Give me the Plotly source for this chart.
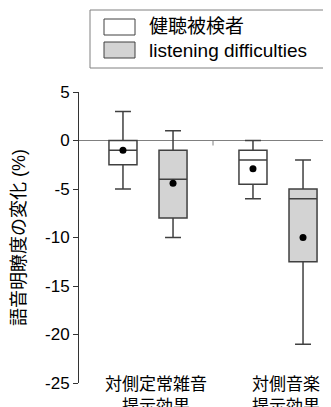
import plotly.graph_objects as go

# ---- data ----
categories = ["対側定常雑音<br>提示効果", "対側音楽<br>提示効果"]
series_names = ["健聴被検者", "listening difficulties"]

healthy_q1 = [-2.5, -4.5]
healthy_median = [-1, -2]
healthy_q3 = [0, -1]
healthy_lower = [-5, -6]
healthy_upper = [3, 0]
healthy_mean = [-1, -2.9]

diff_q1 = [-8, -12.5]
diff_median = [-4, -6]
diff_q3 = [-1, -5]
diff_lower = [-10, -21]
diff_upper = [1, -2]
diff_mean = [-4.4, -10]

y_tickvals = [5, 0, -5, -10, -15, -20, -25]
y_ticktext = ["5", "0", "-5", "-10", "-15", "-20", "-25"]

FONT = "Liberation Sans, Arial, Noto Sans CJK JP, sans-serif"
LINE = "#404040"
GRAY_FILL = "#d3d3d3"

fig = go.Figure()

for name, fill, og, q1, med, q3, lo, hi in [
    (series_names[0], "white", "h", healthy_q1, healthy_median, healthy_q3, healthy_lower, healthy_upper),
    (series_names[1], GRAY_FILL, "d", diff_q1, diff_median, diff_q3, diff_lower, diff_upper),
]:
    fig.add_trace(go.Box(
        name=name, x=categories, q1=q1, median=med, q3=q3,
        lowerfence=lo, upperfence=hi,
        fillcolor=fill, line=dict(color=LINE, width=1.5),
        whiskerwidth=0.57, offsetgroup=og, showlegend=False,
        hoverinfo="skip",
    ))

for name, og, means in [(series_names[0], "h", healthy_mean), (series_names[1], "d", diff_mean)]:
    fig.add_trace(go.Scatter(
        name=name, x=categories, y=means, mode="markers",
        marker=dict(color="black", size=7), offsetgroup=og,
        showlegend=False, hoverinfo="skip",
    ))

# page has an 8px body margin; layout numbers below are in figure pixels
OFF = 8
W, H = 331, 407
L, R, T, B = 79 - OFF, W, 92 - OFF, 383 - OFF
pw, ph = R - L, B - T

def px(x_screen):
    return (x_screen - OFF - L) / pw

def py(y_screen):
    return (B - (y_screen - OFF)) / ph

shapes = [
    # tick at category boundary on the zero line
    dict(type="line", xref="x", yref="y", x0=0.5, x1=0.5, y0=0,
         ysizemode="pixel", yanchor=0, y1=-5,
         line=dict(color="#808080", width=1)),
    # legend frame
    dict(type="rect", xref="paper", yref="paper", x0=px(90), x1=px(329), y0=py(68), y1=py(10),
         line=dict(color="#808080", width=1), fillcolor="white", layer="above"),
    dict(type="rect", xref="paper", yref="paper", x0=px(104), x1=px(135), y0=py(35), y1=py(19),
         line=dict(color=LINE, width=1), fillcolor="white", layer="above"),
    dict(type="rect", xref="paper", yref="paper", x0=px(104), x1=px(135), y0=py(58), y1=py(42),
         line=dict(color=LINE, width=1), fillcolor=GRAY_FILL, layer="above"),
]

annotations = [
    dict(xref="paper", yref="paper", x=px(147), y=py(27), text=series_names[0],
         showarrow=False, xanchor="left", yanchor="middle", font=dict(size=19, color="black", family=FONT)),
    dict(xref="paper", yref="paper", x=px(147), y=py(50), text=series_names[1],
         showarrow=False, xanchor="left", yanchor="middle", font=dict(size=19, color="black", family=FONT)),
]

# x range: category centres sit at screen x 148 and 278 (130 px apart)
x_lo = -(148 - 79) / 130
x_hi = 1 + (R + OFF - 278) / 130

fig.update_layout(
    template="none",
    width=W, height=H,
    margin=dict(l=L, r=W - R, t=T, b=H - B, pad=0),
    paper_bgcolor="white", plot_bgcolor="white",
    font=dict(family=FONT, color="black", size=16),
    boxmode="group", boxgap=0.23, boxgroupgap=0.44,
    scattermode="group", scattergap=0.23,
    showlegend=False,
    shapes=shapes, annotations=annotations,
    xaxis=dict(
        type="category", categoryorder="array", categoryarray=categories,
        range=[x_lo, x_hi], showline=False, showgrid=False, zeroline=False,
        automargin=False,
        ticks="", tickfont=dict(size=17, family=FONT),
        ticklabelstandoff=-11, ticklabelshift=8,
    ),
    yaxis=dict(
        range=[-25, 5], tickmode="array", tickvals=y_tickvals, ticktext=y_ticktext,
        automargin=False,
        ticks="outside", ticklen=5, tickcolor="#333333", tickwidth=1,
        showline=True, linecolor="#333333", linewidth=1,
        showgrid=False, zeroline=True, zerolinecolor="#808080", zerolinewidth=1,
        tickfont=dict(size=17, family=FONT),
        title=dict(text="語音明瞭度の変化 (%)", font=dict(size=18, family=FONT), standoff=14),
    ),
)

fig.write_html("out.html")
